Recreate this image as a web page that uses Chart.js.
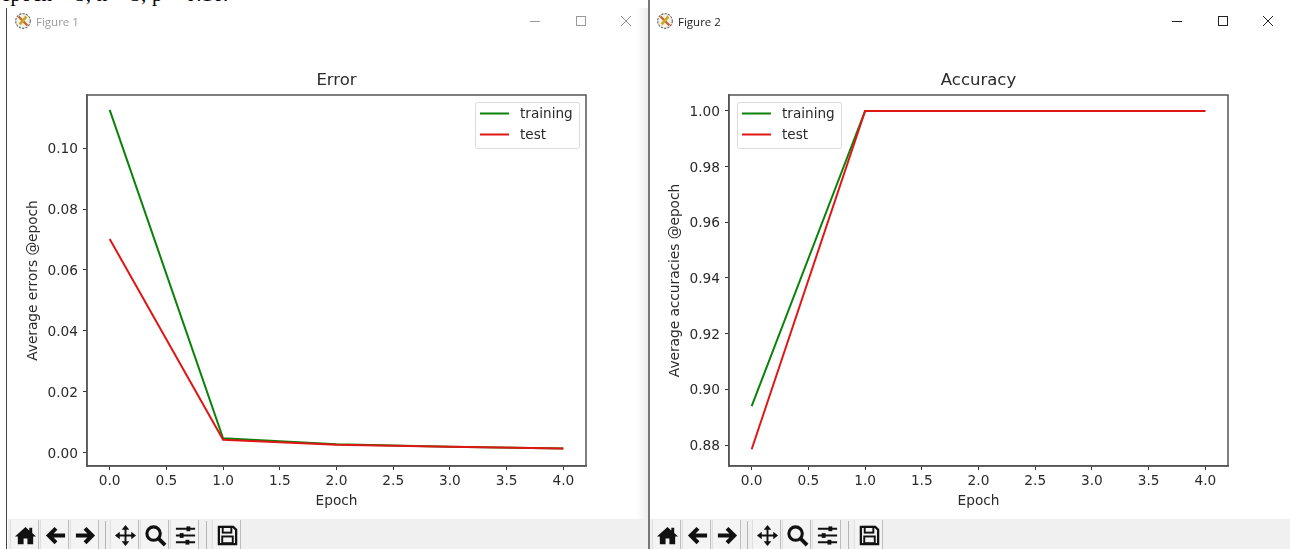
<!DOCTYPE html>
<html><head><meta charset="utf-8">
<script src="https://cdn.jsdelivr.net/npm/chart.js@4/dist/chart.umd.min.js"></script>
<style>
html,body{margin:0;padding:0;background:#fff;overflow:hidden}
#page{position:relative;width:1290px;height:549px;overflow:hidden;background:#fff;font-family:"DejaVu Sans",sans-serif}
.abs{position:absolute}
canvas{position:absolute;left:0;top:0}
.toolbar{position:absolute;top:519px;height:30px;background:#f0f0f0}
.tool{position:absolute;top:520px;width:29px;height:29px;background:#f4f4f4;border-right:1px solid #bdbdbd;border-left:1px solid #e0e0e0;box-sizing:border-box}
.tool svg{position:absolute;left:3px;top:4px;width:23px;height:23px}
.sep{position:absolute;top:521px;width:1px;height:28px;background:#b5b5b5}
.ttl{position:absolute;top:14px;font:11.5px "Open Sans",sans-serif}
</style></head><body><div id="page">
<div class="abs" style="left:1px;top:-18px;font:21px 'Liberation Serif',serif;color:#000;white-space:nowrap;letter-spacing:.2px">epoch = 5, n = 5, p = 0.16.</div>
<div class="abs" style="left:6px;top:8px;width:642px;height:541px;background:#fff;border-left:1px solid #444;box-sizing:border-box"></div>
<div class="abs" style="left:636px;top:8px;width:13px;height:541px;background:linear-gradient(90deg,#fff,#ececec)"></div>
<div class="abs" style="left:648px;top:0;width:2px;height:549px;background:#777"></div>
<canvas id="c1" width="628" height="511" style="left:8px;top:8px;width:628px;height:511px"></canvas>
<canvas id="c2" width="640" height="511" style="left:650px;top:8px;width:640px;height:511px"></canvas>
<div id="chrome"></div>
</div>
<script>
const epochs = [0, 1, 2, 3, 4];
const errorTraining = [0.1125, 0.0048, 0.0028, 0.002, 0.0014];
const errorTest = [0.0702, 0.0043, 0.0027, 0.002, 0.0014];
const accuracyTraining = [0.894, 1, 1, 1, 1];
const accuracyTest = [0.8785, 1, 1, 1, 1];
const xTicks = [0, 0.5, 1, 1.5, 2, 2.5, 3, 3.5, 4];
const errorTicks = [0, 0.02, 0.04, 0.06, 0.08, 0.10];
const accuracyTicks = [0.88, 0.90, 0.92, 0.94, 0.96, 0.98, 1.00];
const seriesNames = ['training', 'test'];
const seriesColors = ['#0a820a', '#e01515'];
const FONT = '"DejaVu Sans"';
const INK = '#2a2a2a';
const LABEL_SIZE = 13.7;

const boxLegend = {
  id: 'boxLegend',
  afterDraw(chart, _a, o) {
    const c = chart.ctx, a = chart.chartArea;
    const w = 104, h = 46;
    const x = o.side === 'right' ? a.right - w - 7 : a.left + 8;
    const y = a.top + 7;
    c.save();
    c.fillStyle = 'rgba(255,255,255,.9)';
    c.strokeStyle = '#dcdcdc';
    c.lineWidth = 1;
    c.beginPath();
    c.roundRect(x + .5, y + .5, w, h, 2);
    c.fill(); c.stroke();
    chart.data.datasets.forEach((d, i) => {
      const yy = y + 11.5 + i * 21;
      c.strokeStyle = d.borderColor;
      c.lineWidth = 2;
      c.beginPath();
      c.moveTo(x + 5, yy); c.lineTo(x + 34, yy); c.stroke();
      c.fillStyle = INK;
      c.font = '13.6px ' + FONT;
      c.textBaseline = 'middle';
      c.fillText(d.label, x + 45, yy + 0.5);
    });
    c.restore();
  }
};

const frame = {
  id: 'frame',
  afterDraw(chart, _a, o) {
    const c = chart.ctx, a = chart.chartArea;
    c.save();
    c.strokeStyle = '#555'; c.lineWidth = 1.5;
    c.strokeRect(a.left, a.top, a.right - a.left, a.bottom - a.top);
    c.fillStyle = INK;
    c.font = '16.5px ' + FONT;
    c.textAlign = 'center'; c.textBaseline = 'alphabetic';
    c.fillText(o.title, (a.left + a.right) / 2, a.top - 10);
    c.restore();
  }
};

function build(id, title, yLabel, a, b, yRange, yTicks, side, rightPad) {
  new Chart(document.getElementById(id), {
    type: 'line',
    data: {
      datasets: [
        { label: seriesNames[0], data: epochs.map((x, i) => ({ x, y: a[i] })), borderColor: seriesColors[0], borderWidth: 2, pointRadius: 0, tension: 0, order: 2 },
        { label: seriesNames[1], data: epochs.map((x, i) => ({ x, y: b[i] })), borderColor: seriesColors[1], borderWidth: 2, pointRadius: 0, tension: 0, order: 1 }
      ]
    },
    plugins: [boxLegend, frame],
    options: {
      responsive: false, animation: false, devicePixelRatio: 1,
      layout: { padding: { left: 17, right: rightPad, top: 87, bottom: 7 } },
      plugins: {
        legend: { display: false }, tooltip: { enabled: false }, title: { display: false },
        boxLegend: { side },
        frame: { title }
      },
      scales: {
        x: {
          type: 'linear', min: -0.2, max: 4.2,
          afterBuildTicks: s => { s.ticks = xTicks.map(v => ({ value: v })); },
          afterFit: s => { s.height = 46; },
          grid: { display: true, drawOnChartArea: false, drawTicks: true, tickLength: 4, tickColor: '#333' },
          border: { color: '#555', width: 1.5 },
          ticks: { color: INK, font: { family: FONT, size: LABEL_SIZE }, maxRotation: 0, padding: 3, callback: v => v.toFixed(1), autoSkip: false },
          title: { display: true, text: 'Epoch', color: INK, font: { family: FONT, size: LABEL_SIZE }, padding: { top: 0, bottom: 2 } }
        },
        y: {
          type: 'linear', min: yRange[0], max: yRange[1], position: 'left',
          afterBuildTicks: s => { s.ticks = yTicks.map(v => ({ value: v })); },
          afterFit: s => { s.width = 62; },
          grid: { display: true, drawOnChartArea: false, drawTicks: true, tickLength: 4, tickColor: '#333' },
          border: { color: '#555', width: 1.5 },
          ticks: { color: INK, font: { family: FONT, size: LABEL_SIZE }, padding: 5, labelOffset: 1.5, callback: v => v.toFixed(2), autoSkip: false },
          title: { display: true, text: yLabel, color: INK, font: { family: FONT, size: LABEL_SIZE }, padding: { top: 0, bottom: 0 } }
        }
      }
    }
  });
}

build('c1', 'Error', 'Average errors @epoch', errorTraining, errorTest, [-0.0043, 0.1174], errorTicks, 'right', 50);
build('c2', 'Accuracy', 'Average accuracies @epoch', accuracyTraining, accuracyTest, [0.8725, 1.0057], accuracyTicks, 'left', 62);

/* window chrome */
const P = {
  home: '<path d="M12 3 1 13h3v8h6v-6h4v6h6v-8h3l-4-3.6V4h-3v2.7z" fill="#111"/>',
  back: '<path d="M11 3 2 12l9 9 3-3-4-4h12v-4H10l4-4z" fill="#111"/>',
  fwd: '<path d="M13 3l9 9-9 9-3-3 4-4H2v-4h12l-4-4z" fill="#111"/>',
  move: '<path d="M12 1l4 5h-3v5h5V8l5 4-5 4v-3h-5v5h3l-4 5-4-5h3v-5H6v3l-5-4 5-4v3h5V6H8z" fill="#111"/>',
  zoom: '<circle cx="10" cy="10" r="7" fill="none" stroke="#111" stroke-width="3.2"/><path d="M15 15l7 7" stroke="#111" stroke-width="4"/>',
  cfg: '<path d="M2 5h20M2 12h20M2 19h20" stroke="#111" stroke-width="2"/><rect x="13" y="2.5" width="4" height="5" fill="#111"/><rect x="6" y="9.5" width="4" height="5" fill="#111"/><rect x="12" y="16.5" width="4" height="5" fill="#111"/>',
  save: '<path d="M3 3h15l3 3v15H3z" fill="none" stroke="#111" stroke-width="2.4"/><rect x="7" y="3" width="9" height="6" fill="none" stroke="#111" stroke-width="2"/><rect x="6.5" y="13" width="11" height="7" fill="none" stroke="#111" stroke-width="2"/>'
};
const toolX = [10, 40, 70, 110, 140, 170, 212];
const toolNames = ['home', 'back', 'fwd', 'move', 'zoom', 'cfg', 'save'];
const sepX = [105, 206];
function chromeFor(off, barLeft, barW, title, color) {
  let h = `<div class="toolbar" style="left:${barLeft}px;width:${barW}px"></div>`;
  toolNames.forEach((n, i) => {
    h += `<div class="tool" style="left:${toolX[i] + off}px"><svg viewBox="0 0 24 24">${P[n]}</svg></div>`;
  });
  sepX.forEach(x => { h += `<div class="sep" style="left:${x + off}px"></div>`; });
  const ix = off === 0 ? 15 : 657;
  h += `<svg class="abs" style="left:${ix - 1}px;top:12px;width:18px;height:18px" viewBox="0 0 16 16"><circle cx="8" cy="8" r="6.5" fill="#f6f2ea" stroke="#666" stroke-dasharray="2 1"/><path d="M4 4l8 8" stroke="#c8622a" stroke-width="2"/><path d="M11 4 5 11" stroke="#c9a92e" stroke-width="2.4"/></svg>`;
  h += `<div class="ttl" style="left:${ix + 21}px;color:${color}">${title}</div>`;
  return h;
}
let html = chromeFor(0, 8, 640, 'Figure 1', '#9a9a9a') + chromeFor(642, 650, 640, 'Figure 2', '#222');
function winBtns(xs, col) {
  return `<svg class="abs" style="left:${xs}px;top:14px;width:110px;height:14px" viewBox="0 0 110 14" fill="none" stroke="${col}" stroke-width="1">
  <path d="M0 7.5h10"/><rect x="46.5" y="2.5" width="9" height="9"/><path d="M91 2l10 10M101 2 91 12"/></svg>`;
}
html += winBtns(530, '#9a9a9a') + winBtns(1172, '#222');
document.getElementById('chrome').innerHTML = html;
</script></body></html>
